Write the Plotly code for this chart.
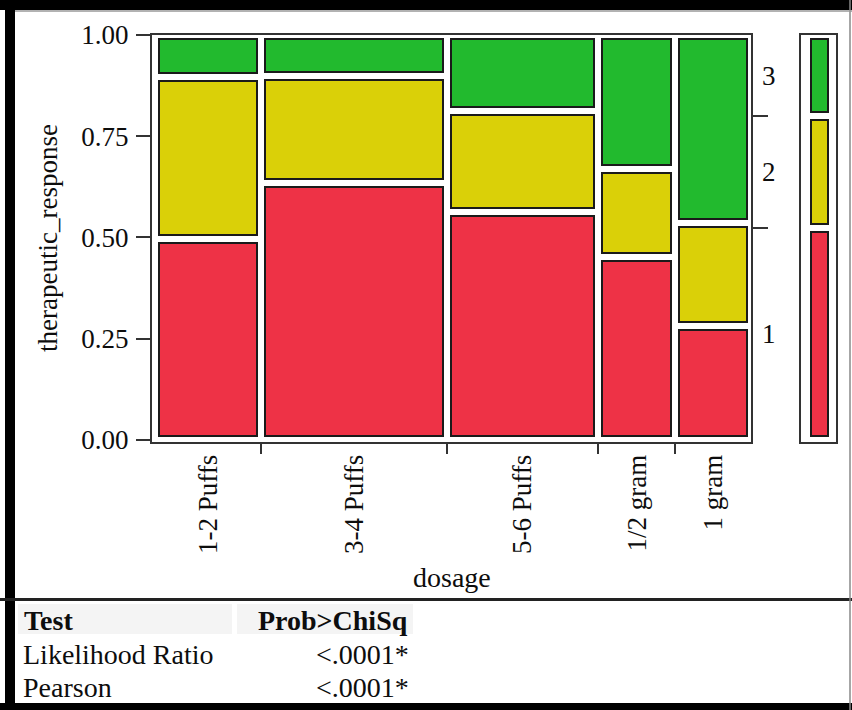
import numpy as np
import plotly.graph_objects as go

# ---------------- data ----------------
dosage = ["1-2 Puffs", "3-4 Puffs", "5-6 Puffs", "1/2 gram", "1 gram"]
dosage_share = [0.1795, 0.3109, 0.2545, 0.1292, 0.1259]
response_levels = ["1", "2", "3"]
resp_1 = [0.497, 0.635, 0.563, 0.452, 0.281]
resp_2 = [0.399, 0.265, 0.249, 0.217, 0.254]
resp_3 = [0.104, 0.100, 0.188, 0.331, 0.465]
y_tick_vals = [0.0, 0.25, 0.5, 0.75, 1.0]
y_tick_text = ["0.00", "0.25", "0.50", "0.75", "1.00"]
table_header = ["Test", "Prob>ChiSq"]
test_names = ["Likelihood Ratio", "Pearson"]
test_probs = ["<.0001*", "<.0001*"]

# ---------------- style ----------------
W, H = 852, 710
FONT = "Liberation Serif"
colors = {"1": "#EE3246", "2": "#DAD008", "3": "#22BA2E"}
EDGE = "#1a1a1a"
FRAME = "#333333"
TXT = "#0d0d0d"


def px(x):
    return x / W


def py(y):
    return 1 - y / H


share = np.array(dosage_share)
share = share / share.sum()
right = np.cumsum(share)
left = right - share
centers = (left + right) / 2

x_range = [-0.0042, 1.0008]
y_range = [-0.005, 1.0]
X0, X1 = 152, 751
Y0, Y1 = 35, 442
px_per_x = (X1 - X0) / (x_range[1] - x_range[0])
px_per_y = (Y1 - Y0) / (y_range[1] - y_range[0])
GAP = 4.0
ix = GAP / px_per_x
iy = GAP / px_per_y

fig = go.Figure()

levels_vals = [np.array(resp_1), np.array(resp_2), np.array(resp_3)]
lower = np.zeros(len(dosage))
for lvl, vals in zip(response_levels, levels_vals):
    fig.add_trace(go.Bar(
        x=centers, y=vals - 2 * iy, base=lower + iy, width=share - 2 * ix,
        marker=dict(color=colors[lvl], line=dict(color=EDGE, width=2)),
        xaxis="x", yaxis="y", showlegend=False, hoverinfo="skip",
    ))
    lower = lower + vals

# marginal distribution bar
marg = [float(np.sum(share * v)) for v in levels_vals]
mlow = 0.0
for lvl, m in zip(response_levels, marg):
    fig.add_trace(go.Bar(
        x=[0.53], y=[m - 2 * iy], base=[mlow + iy], width=[0.47],
        marker=dict(color=colors[lvl], line=dict(color=EDGE, width=2)),
        xaxis="x2", yaxis="y3", showlegend=False, hoverinfo="skip",
    ))
    mlow += m

marg_bounds = list(np.cumsum(marg)[:-1])
marg_mids = list(np.cumsum(marg) - np.array(marg) / 2)

# dummy traces so overlay axes render
fig.add_trace(go.Scatter(x=[None], y=[None], xaxis="x3", yaxis="y2",
                         showlegend=False, hoverinfo="skip"))
fig.add_trace(go.Scatter(x=[None], y=[None], xaxis="x", yaxis="y4",
                         showlegend=False, hoverinfo="skip"))

ydom = [py(Y1), py(Y0)]
tickfont = dict(family=FONT, size=27, color=TXT)
common = dict(automargin=False, showgrid=False, zeroline=False, fixedrange=True)

fig.update_layout(
    width=W, height=H, autosize=False,
    margin=dict(l=0, r=0, t=0, b=0, pad=0),
    paper_bgcolor="white", plot_bgcolor="white",
    barmode="overlay", bargap=0,
    font=dict(family=FONT, color=TXT),
    xaxis=dict(domain=[px(X0), px(X1)], range=x_range, anchor="y",
               tickvals=list(centers), ticktext=dosage, tickangle=-90,
               ticks="", ticklabelstandoff=0, tickfont=tickfont,
               showline=True, mirror=True, linecolor=FRAME, linewidth=2,
               **common),
    xaxis3=dict(overlaying="x", anchor="y", range=x_range,
                tickvals=list(right[:-1]), ticks="outside", ticklen=11,
                tickwidth=2, tickcolor=FRAME, showticklabels=False,
                showline=False, **common),
    yaxis=dict(domain=ydom, range=y_range, anchor="x",
               tickvals=y_tick_vals, ticktext=y_tick_text,
               ticks="outside", ticklen=14, tickwidth=2, tickcolor=FRAME,
               tickfont=tickfont, ticklabelstandoff=2,
               showline=True, mirror=True, linecolor=FRAME, linewidth=2,
               **common),
    yaxis2=dict(overlaying="y", side="right", anchor="x", range=y_range,
                tickvals=marg_bounds, ticks="outside", ticklen=16,
                tickwidth=2, tickcolor=FRAME, showticklabels=False,
                showline=False, **common),
    yaxis4=dict(overlaying="y", side="right", anchor="x", range=y_range,
                tickvals=marg_mids, ticktext=response_levels, ticks="",
                ticklabelstandoff=10, tickfont=tickfont,
                showline=False, **common),
    xaxis2=dict(domain=[px(801), px(836)], range=[0, 1], anchor="y3",
                showticklabels=False, ticks="", showline=True, mirror=True,
                linecolor=FRAME, linewidth=2, **common),
    yaxis3=dict(domain=ydom, range=y_range, anchor="x2",
                showticklabels=False, ticks="", showline=True, mirror=True,
                linecolor=FRAME, linewidth=2, **common),
)

shapes = [
    # header backgrounds
    dict(type="rect", xref="paper", yref="paper", x0=px(18), x1=px(232),
         y0=py(634), y1=py(604), fillcolor="#f4f4f4", line=dict(width=0),
         layer="below"),
    dict(type="rect", xref="paper", yref="paper", x0=px(237), x1=px(413),
         y0=py(634), y1=py(604), fillcolor="#f4f4f4", line=dict(width=0),
         layer="below"),
    # outer borders
    dict(type="rect", xref="paper", yref="paper", x0=0, x1=1,
         y0=py(10), y1=1, fillcolor="black", line=dict(width=0)),
    dict(type="rect", xref="paper", yref="paper", x0=px(5), x1=px(15),
         y0=0, y1=1, fillcolor="black", line=dict(width=0)),
    dict(type="rect", xref="paper", yref="paper", x0=0, x1=1,
         y0=0, y1=py(703), fillcolor="black", line=dict(width=0)),
    dict(type="rect", xref="paper", yref="paper", x0=0, x1=1,
         y0=py(601), y1=py(598), fillcolor="#222222", line=dict(width=0)),
    dict(type="line", xref="paper", yref="paper", x0=px(850), x1=px(850),
         y0=0, y1=1, line=dict(color="#888888", width=1.5)),
    dict(type="line", xref="paper", yref="paper", x0=px(15), x1=1,
         y0=py(11), y1=py(11), line=dict(color="#999999", width=1.5)),
]
fig.update_layout(shapes=shapes)

ann = []
ann.append(dict(text="therapeutic_response", x=px(48), y=py(238),
                xref="paper", yref="paper", textangle=-90, showarrow=False,
                font=dict(family=FONT, size=27, color=TXT),
                xanchor="center", yanchor="middle"))
ann.append(dict(text="dosage", x=px(452), y=py(577), xref="paper",
                yref="paper", showarrow=False,
                font=dict(family=FONT, size=28, color=TXT),
                xanchor="center", yanchor="middle"))

row_y = [620, 654, 687]
ann.append(dict(text="<b>%s</b>" % table_header[0], x=px(22), y=py(row_y[0]),
                xref="paper", yref="paper", showarrow=False,
                xanchor="left", yanchor="middle",
                font=dict(family=FONT, size=28, color=TXT)))
ann.append(dict(text="<b>%s</b>" % table_header[1], x=px(410), y=py(row_y[0]),
                xref="paper", yref="paper", showarrow=False,
                xanchor="right", yanchor="middle",
                font=dict(family=FONT, size=28, color=TXT)))
for name, prob, ry in zip(test_names, test_probs, row_y[1:]):
    ann.append(dict(text=name, x=px(21), y=py(ry), xref="paper",
                    yref="paper", showarrow=False, xanchor="left",
                    yanchor="middle",
                    font=dict(family=FONT, size=28, color=TXT)))
    ann.append(dict(text=prob, x=px(411), y=py(ry), xref="paper",
                    yref="paper", showarrow=False, xanchor="right",
                    yanchor="middle",
                    font=dict(family=FONT, size=28, color=TXT)))
fig.update_layout(annotations=ann)

fig.write_html(
    "out.html",
    config={"displayModeBar": False},
    post_script="document.body.style.margin='0';"
                "document.body.style.overflow='hidden';",
)
